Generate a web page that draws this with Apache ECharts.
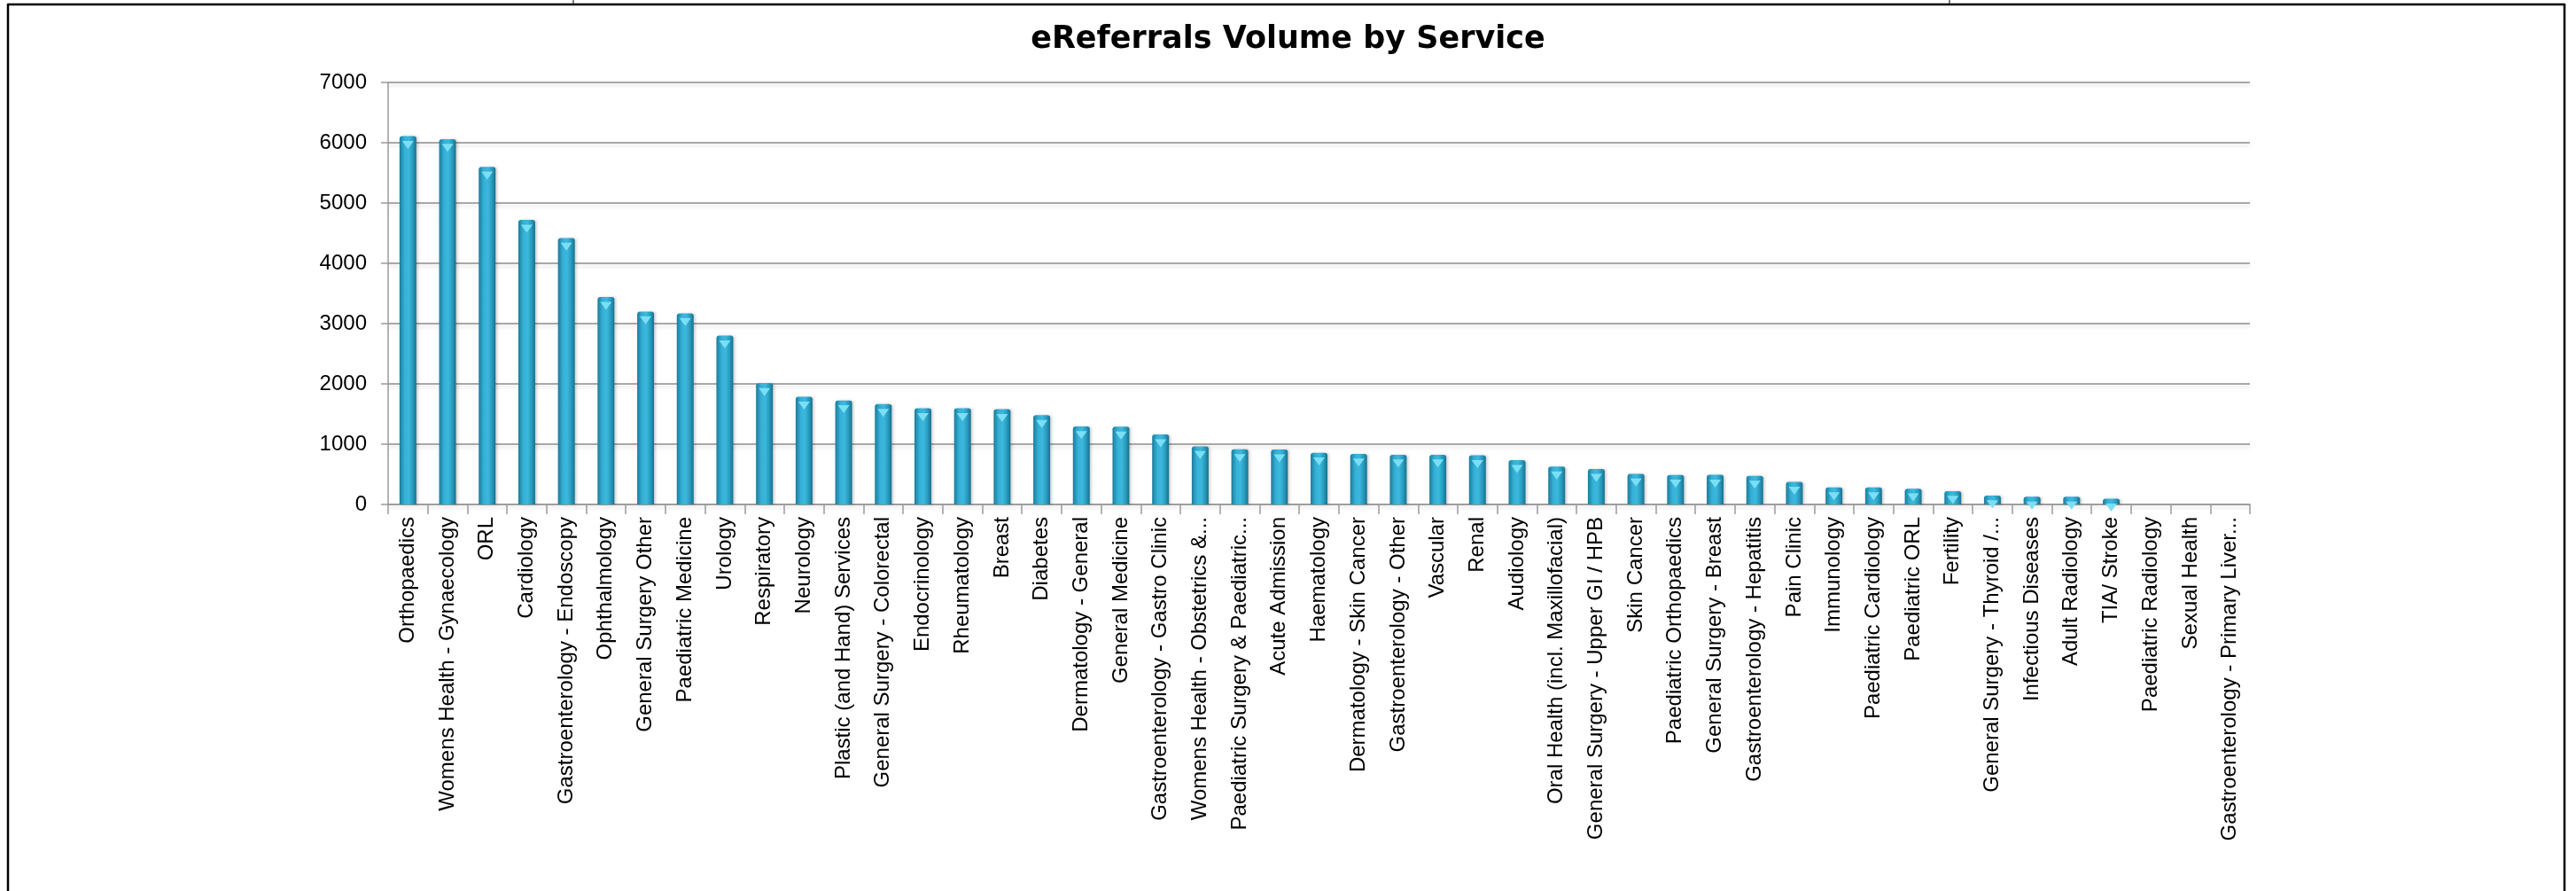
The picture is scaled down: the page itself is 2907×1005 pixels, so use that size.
<!DOCTYPE html>
<html>
<head>
<meta charset="utf-8">
<script src="https://cdn.jsdelivr.net/npm/echarts@6/dist/echarts.min.js"></script>
<style>
  html, body { margin: 0; padding: 0; background: #ffffff; }
  #chart { width: 2907px; height: 1005px; }
</style>
</head>
<body>
<div id="chart"></div>
<script>
const categories = [
  'Orthopaedics', 'Womens Health - Gynaecology', 'ORL', 'Cardiology',
  'Gastroenterology - Endoscopy', 'Ophthalmology', 'General Surgery Other',
  'Paediatric Medicine', 'Urology', 'Respiratory', 'Neurology',
  'Plastic (and Hand) Services', 'General Surgery - Colorectal', 'Endocrinology',
  'Rheumatology', 'Breast', 'Diabetes', 'Dermatology - General', 'General Medicine',
  'Gastroenterology - Gastro Clinic', 'Womens Health - Obstetrics &...',
  'Paediatric Surgery & Paediatric...', 'Acute Admission', 'Haematology',
  'Dermatology - Skin Cancer', 'Gastroenterology - Other', 'Vascular', 'Renal',
  'Audiology', 'Oral Health (incl. Maxillofacial)', 'General Surgery - Upper GI / HPB',
  'Skin Cancer', 'Paediatric Orthopaedics', 'General Surgery - Breast',
  'Gastroenterology - Hepatitis', 'Pain Clinic', 'Immunology', 'Paediatric Cardiology',
  'Paediatric ORL', 'Fertility', 'General Surgery - Thyroid /...', 'Infectious Diseases',
  'Adult Radiology', 'TIA/ Stroke', 'Paediatric Radiology', 'Sexual Health',
  'Gastroenterology - Primary Liver...'
];
const volumes = [
  6110, 6060, 5600, 4720, 4420, 3440, 3200, 3170, 2800, 2010, 1785,
  1725, 1665, 1595, 1595, 1580, 1480, 1295, 1290, 1160, 965,
  915, 912, 858, 840, 825, 825, 815, 735, 627, 588,
  508, 490, 493, 474, 375, 282, 282, 262, 222, 148, 128,
  128, 95, 0, 0, 0
];
const yTicks = { min: 0, max: 7000, interval: 1000 };
const titleText = 'eReferrals Volume by Service';

const chart = echarts.init(document.getElementById('chart'), null, { renderer: 'canvas' });

const capData = volumes.map(v => (v > 0 ? v : '-'));

chart.setOption({
  backgroundColor: '#ffffff',
  animation: false,
  title: {
    text: titleText,
    left: 'center',
    top: 22,
    textStyle: {
      fontFamily: 'DejaVu Sans',
      fontWeight: 'bold',
      fontSize: 35,
      color: '#000000'
    }
  },
  grid: { left: 438, right: 368, top: 93, bottom: 436, containLabel: false },
  xAxis: {
    type: 'category',
    data: categories,
    boundaryGap: true,
    axisLine: { show: true, lineStyle: { color: '#9a9a9a', width: 1.5 } },
    axisTick: { show: true, alignWithLabel: false, length: 11, lineStyle: { color: '#9a9a9a', width: 1.5 } },
    axisLabel: {
      interval: 0,
      rotate: 90,
      margin: 14,
      fontFamily: 'Liberation Sans',
      fontSize: 24,
      color: '#000000'
    },
    splitLine: { show: false }
  },
  yAxis: {
    type: 'value',
    min: yTicks.min,
    max: yTicks.max,
    interval: yTicks.interval,
    axisLine: { show: true, lineStyle: { color: '#9a9a9a', width: 1.5 } },
    axisTick: { show: true, length: 8, lineStyle: { color: '#9a9a9a', width: 1.5 } },
    axisLabel: {
      margin: 24,
      formatter: v => String(v),
      fontFamily: 'Liberation Sans',
      fontSize: 24,
      color: '#000000'
    },
    splitLine: {
      show: true,
      lineStyle: {
        color: '#a8a8a8',
        width: 2,
        shadowColor: 'rgba(0,0,0,0.12)',
        shadowBlur: 4,
        shadowOffsetY: 3
      }
    }
  },
  series: [
    {
      name: 'Volume',
      type: 'bar',
      data: volumes,
      barWidth: 19,
      z: 2,
      itemStyle: {
        borderRadius: [3, 3, 0, 0],
        color: new echarts.graphic.LinearGradient(0, 0, 1, 0, [
          { offset: 0, color: '#1b7c9b' },
          { offset: 0.3, color: '#35b0d6' },
          { offset: 0.55, color: '#3cb8dd' },
          { offset: 0.8, color: '#2798bb' },
          { offset: 1, color: '#17708d' }
        ]),
        shadowColor: 'rgba(0,0,0,0.18)',
        shadowBlur: 3,
        shadowOffsetX: 2
      }
    },
    {
      name: 'Cap',
      type: 'pictorialBar',
      data: capData,
      symbol: 'path://M0,0 L10,0 L5,6 Z',
      symbolSize: [13, 9],
      symbolPosition: 'end',
      symbolOffset: [0, '60%'],
      z: 3,
      silent: true,
      itemStyle: { color: '#7adff5' }
    }
  ],
  graphic: [
    { type: 'line', silent: true, shape: { x1: 9, y1: 5, x2: 2894, y2: 5 }, style: { stroke: '#000', lineWidth: 2.5 } },
    { type: 'line', silent: true, shape: { x1: 9, y1: 4, x2: 9, y2: 1005 }, style: { stroke: '#000', lineWidth: 2.5 } },
    { type: 'line', silent: true, shape: { x1: 2894, y1: 4, x2: 2894, y2: 1005 }, style: { stroke: '#000', lineWidth: 2.5 } },
    { type: 'line', silent: true, shape: { x1: 647, y1: 0, x2: 647, y2: 5 }, style: { stroke: '#000', lineWidth: 1 } },
    { type: 'line', silent: true, shape: { x1: 2200, y1: 0, x2: 2200, y2: 5 }, style: { stroke: '#000', lineWidth: 1 } }
  ]
});
</script>
</body>
</html>
